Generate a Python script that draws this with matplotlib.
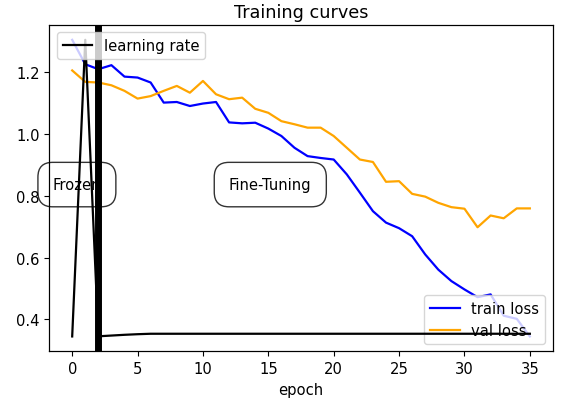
import numpy as np
import matplotlib
matplotlib.use('Agg')
import matplotlib.pyplot as plt

# values
epochs = list(range(36))
train_loss = [1.304, 1.225, 1.209, 1.222, 1.185, 1.182, 1.166, 1.101, 1.103, 1.090,
              1.098, 1.103, 1.037, 1.034, 1.036, 1.017, 0.993, 0.955, 0.928, 0.922,
              0.917, 0.869, 0.810, 0.750, 0.713, 0.695, 0.669, 0.610, 0.561, 0.524,
              0.497, 0.472, 0.481, 0.412, 0.402, 0.345]
val_loss = [1.205, 1.168, 1.166, 1.157, 1.139, 1.114, 1.122, 1.139, 1.155, 1.133,
            1.171, 1.128, 1.112, 1.117, 1.081, 1.068, 1.041, 1.031, 1.020, 1.020,
            0.993, 0.955, 0.917, 0.909, 0.845, 0.847, 0.806, 0.797, 0.777, 0.763,
            0.758, 0.698, 0.736, 0.727, 0.759, 0.759]
lr = [1e-5, 1e-3, 1.05e-5, 1.3e-5, 1.55e-5, 1.75e-5] + [1.9e-5] * 30
switch_epoch = 2

plt.rcParams['font.size'] = 10.6
plt.rcParams['lines.linewidth'] = 1.6

fig = plt.figure(figsize=(5.76, 4.06), dpi=100)
ax = fig.add_axes([0.0856, 0.1323, 0.874, 0.8037])

ax.plot(epochs, train_loss, color='blue', label='train loss')
ax.plot(epochs, val_loss, color='orange', label='val loss')
ax.axvline(switch_epoch, color='black', linewidth=5)
ax.legend(loc='lower right')
ax.set_xlabel('epoch')
ax.set_title('Training curves')

box = dict(boxstyle='round,pad=1', facecolor='none', edgecolor='black', alpha=0.8)
ax.text(0.36, 0.836, 'Frozen', ha='center', va='center', bbox=box)
ax.text(15.15, 0.836, 'Fine-Tuning', ha='center', va='center', bbox=box)

# learning rate on its own (hidden) scale
ax2 = ax.twinx()
ax2.plot(epochs, lr, color='black', label='learning rate')
ax2.set_yticks([])
ax2.legend(loc='upper left')

fig.savefig('out.png', dpi=100)
